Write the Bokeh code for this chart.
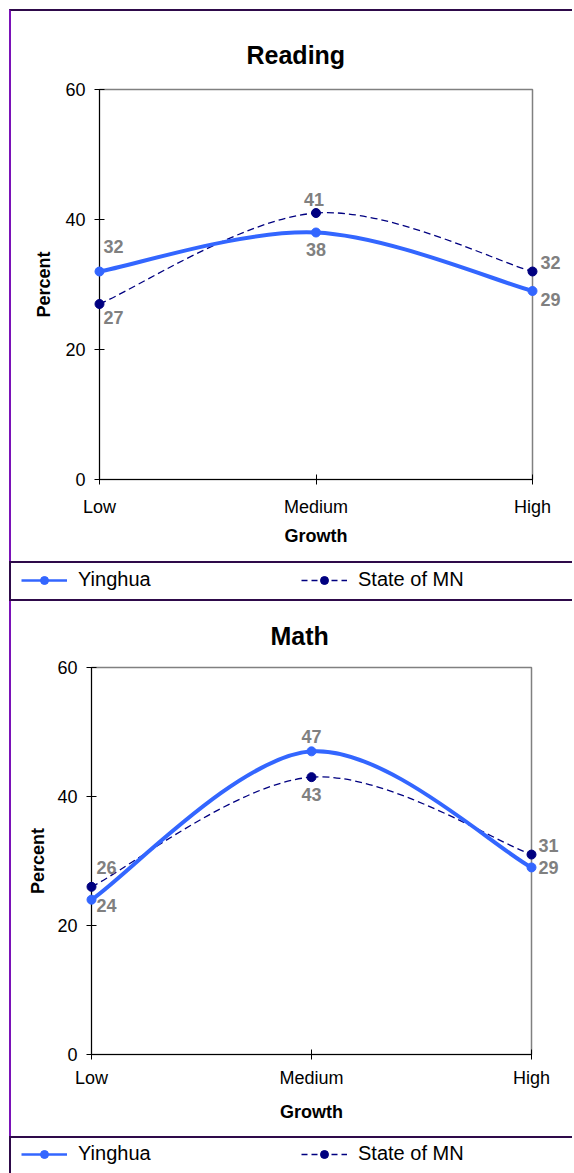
import numpy as np
from bokeh.plotting import figure
from bokeh.models import Range1d, FixedTicker, Legend, LegendItem, ColumnDataSource, Spacer
from bokeh.layouts import column, row
from bokeh.core.properties import value
from bokeh.embed import file_html
from bokeh.resources import INLINE

# ---------------- data ----------------
growth = ["Low", "Medium", "High"]
reading_yinghua = [32, 38, 29]
reading_state = [27, 41, 32]
math_yinghua = [24, 47, 29]
math_state = [26, 43, 31]
y_ticks = [0, 20, 40, 60]
series_names = ["Yinghua", "State of MN"]
titles = ["Reading", "Math"]

# ---------------- style ----------------
FONT = "Liberation Sans"
BLUE = "#3366FF"
NAVY = "#000080"
GRAY = "#808080"
PURPLE = "#7A12B8"
DARK = "#2E0A4A"


def bezier_segments(xs, ys):
    x = np.asarray(xs, float)
    y = np.asarray(ys, float)
    xp = np.concatenate([[x[0]], x, [x[-1]]])
    yp = np.concatenate([[y[0]], y, [y[-1]]])
    n = len(x)
    d = dict(x0=[], y0=[], x1=[], y1=[], cx0=[], cy0=[], cx1=[], cy1=[])
    for i in range(n - 1):
        d["x0"].append(x[i]); d["y0"].append(y[i])
        d["x1"].append(x[i + 1]); d["y1"].append(y[i + 1])
        d["cx0"].append(x[i] + (xp[i + 2] - xp[i]) / 6.0)
        d["cy0"].append(y[i] + (yp[i + 2] - yp[i]) / 6.0)
        d["cx1"].append(x[i + 1] - (xp[i + 3] - xp[i + 1]) / 6.0)
        d["cy1"].append(y[i + 1] - (yp[i + 3] - yp[i + 1]) / 6.0)
    return ColumnDataSource(d)


def make_panel(title, ya, yb, geom, offs_a, offs_b, title_off, title_standoff,
               standoffs, styles):
    w, h, bl, br, bt, bb = geom
    p = figure(width=w, height=h, x_range=Range1d(0, len(growth) - 1),
               y_range=Range1d(y_ticks[0], y_ticks[-1]),
               toolbar_location=None, output_backend="svg",
               min_border_left=bl, min_border_right=br,
               min_border_top=bt, min_border_bottom=bb,
               frame_align=False, styles=styles)
    p.title.text = title
    p.title.align = "left"
    p.title.offset = title_off
    p.title.text_font = FONT
    p.title.text_font_size = "25px"
    p.title.text_font_style = "bold"
    p.title.text_color = "black"
    p.title.standoff = title_standoff
    p.xgrid.visible = False
    p.ygrid.visible = False
    p.outline_line_color = GRAY
    p.outline_line_width = 1.5
    p.background_fill_color = "white"
    p.border_fill_color = "white"

    xs = list(range(len(growth)))
    p.xaxis.ticker = FixedTicker(ticks=xs)
    p.xaxis.major_label_overrides = {i: g for i, g in enumerate(growth)}
    p.yaxis.ticker = FixedTicker(ticks=y_ticks)
    p.xaxis.minor_tick_line_color = None
    p.yaxis.minor_tick_line_color = None
    for ax in (p.xaxis, p.yaxis):
        ax.axis_line_color = "black"
        ax.major_tick_line_color = "black"
        ax.major_tick_in = 5
        ax.major_tick_out = 5
        ax.major_label_text_font = FONT
        ax.major_label_text_font_size = "18px"
        ax.major_label_text_color = "black"
        ax.axis_label_text_font = FONT
        ax.axis_label_text_font_size = "18px"
        ax.axis_label_text_font_style = "bold"
        ax.axis_label_text_color = "black"
    p.xaxis.axis_label = "Growth"
    p.yaxis.axis_label = "Percent"
    xs_major, xs_label, ys_major, ys_label = standoffs
    p.xaxis.major_label_standoff = xs_major
    p.xaxis.axis_label_standoff = xs_label
    p.yaxis.major_label_standoff = ys_major
    p.yaxis.axis_label_standoff = ys_label

    # smoothed lines
    p.bezier(x0="x0", y0="y0", x1="x1", y1="y1", cx0="cx0", cy0="cy0",
             cx1="cx1", cy1="cy1", source=bezier_segments(xs, yb),
             line_color=NAVY, line_width=1.3, line_dash="7 4")
    p.bezier(x0="x0", y0="y0", x1="x1", y1="y1", cx0="cx0", cy0="cy0",
             cx1="cx1", cy1="cy1", source=bezier_segments(xs, ya),
             line_color=BLUE, line_width=4)
    p.scatter(xs, yb, marker="circle", size=9, fill_color=NAVY,
              line_color=NAVY, level="overlay")
    p.scatter(xs, ya, marker="circle", size=9, fill_color=BLUE,
              line_color=BLUE, level="overlay")

    for vals, offs in ((ya, offs_a), (yb, offs_b)):
        src = ColumnDataSource(dict(x=xs, y=vals, t=[str(v) for v in vals],
                                    dx=[o[0] for o in offs], dy=[o[1] for o in offs]))
        p.text(x="x", y="y", text="t", x_offset="dx", y_offset="dy", source=src,
               text_align="center", text_baseline="middle",
               text_font=value(FONT), text_font_style="bold",
               text_font_size="18px", text_color=GRAY, level="overlay")
    return p


def make_legend(ya, yb, h, loc, styles):
    # legend strip; its renderers carry the series but sit outside this strip's ranges
    p = figure(width=563, height=h, x_range=Range1d(0, 1), y_range=Range1d(-2, -1),
               toolbar_location=None, output_backend="svg", min_border=0,
               frame_align=False, styles=styles)
    p.axis.visible = False
    p.grid.visible = False
    p.outline_line_color = None
    p.background_fill_color = "white"
    p.border_fill_color = "white"
    xs = list(range(len(growth)))
    r1 = p.line(xs, ya, line_color=BLUE, line_width=2.5)
    r1m = p.scatter(xs, ya, marker="circle", size=6, fill_color=BLUE, line_color=BLUE)
    r2 = p.line(xs, yb, line_color=NAVY, line_width=1.5, line_dash="6 4")
    r2m = p.scatter(xs, yb, marker="circle", size=6, fill_color=NAVY, line_color=NAVY)
    leg = Legend(items=[LegendItem(label=series_names[0], renderers=[r1, r1m]),
                        LegendItem(label=series_names[1], renderers=[r2, r2m])],
                 orientation="horizontal", location=loc,
                 border_line_color=None, background_fill_alpha=0,
                 padding=0, margin=0, spacing=123,
                 glyph_width=46, glyph_height=20, label_height=20, label_width=100,
                 label_standoff=11, label_text_font=FONT,
                 label_text_font_size="20px", label_text_color="black")
    p.add_layout(leg)
    return p


p1 = make_panel(titles[0], reading_yinghua, reading_state,
                (563, 552, 88, 42, 78, 84),
                [(14, -25), (0, 17), (18, 8)],
                [(14, 13), (-2, -14), (18, -9)], 147, 42,
                (12, 6, 9, 8),
                {"border-left": "2px solid " + PURPLE,
                 "border-top": "2px solid " + DARK})
l1 = make_legend(reading_yinghua, reading_state, 40, (10, 12),
                 {"border-left": "2px solid " + DARK,
                  "border-top": "2px solid " + DARK,
                  "border-bottom": "2px solid " + DARK})
p2 = make_panel(titles[1], math_yinghua, math_state,
                (563, 535, 80, 43, 63, 82),
                [(15, 6), (0, -15), (17, 0)],
                [(15, -19), (0, 17), (17, -9)], 179, 36,
                (8, 11, 9, 6),
                {"border-left": "2px solid " + PURPLE})
l2 = make_legend(math_yinghua, math_state, 37, (10, 10),
                 {"border-left": "2px solid " + DARK,
                  "border-top": "2px solid " + DARK})

layout = row(Spacer(width=9, height=10),
             column(Spacer(width=10, height=9), p1, l1, p2, l2, spacing=0),
             spacing=0)
open("out.html", "w").write(file_html(layout, INLINE))
